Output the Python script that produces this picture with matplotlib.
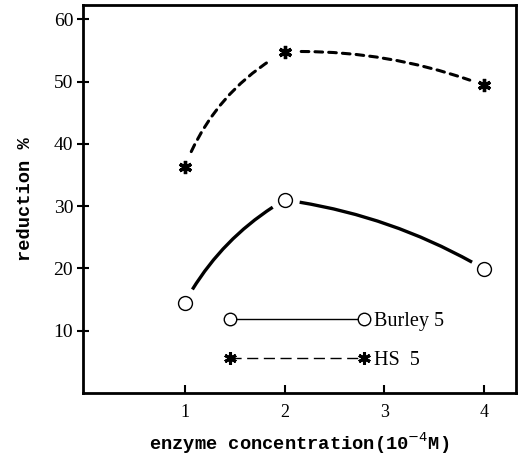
import matplotlib

matplotlib.use("Agg")
from matplotlib import pyplot as plt
from matplotlib.lines import Line2D
from matplotlib.patches import FancyArrowPatch

# values
concentration = [1, 2, 4]
burley_5 = [14.5, 31.0, 19.9]
hs_5 = [36.3, 54.8, 49.4]
x_ticks = [1, 2, 3, 4]
y_ticks = [10, 20, 30, 40, 50, 60]
series_labels = ["Burley 5", "HS  5"]

# curvature of each hand-drawn segment (arc3 rad)
burley_bend = [-0.14, -0.10]
hs_bend = [-0.18, -0.10]

plt.rcParams["font.family"] = ["Liberation Serif", "DejaVu Serif"]

fig = plt.figure(figsize=(5.25, 4.58), dpi=100)
ax = fig.add_axes([0.158, 0.142, 0.825, 0.847])

star = (6, 2, 0)


def draw_curve(xs, ys, bends, gap, **style):
    for i in range(len(xs) - 1):
        seg = FancyArrowPatch(
            (xs[i], ys[i]),
            (xs[i + 1], ys[i + 1]),
            arrowstyle="-",
            connectionstyle=f"arc3,rad={bends[i]}",
            shrinkA=gap,
            shrinkB=gap - 1,
            color="black",
            **style,
        )
        ax.add_patch(seg)


draw_curve(concentration, burley_5, burley_bend, 11, lw=2.4, capstyle="butt")
draw_curve(concentration, hs_5, hs_bend, 12, lw=2.2, linestyle=(0, (2.5, 2.0)))

ax.plot(concentration, burley_5, linestyle="none", marker="o", ms=10,
        mfc="white", mec="black", mew=1.0)
ax.plot(concentration, hs_5, linestyle="none", marker=star, ms=9.5,
        mec="black", mew=2.4)

ax.set_xlim(-0.02, 4.32)
ax.set_ylim(0, 62.3)
ax.set_xticks(x_ticks)
ax.set_yticks(y_ticks)
ax.tick_params(axis="x", direction="in", length=6, width=1.5, labelsize=13, pad=8)
ax.tick_params(axis="y", direction="inout", length=8, width=1.5, labelsize=14, pad=3)
for side in ax.spines.values():
    side.set_linewidth(2)

ax.set_xlabel("enzyme concentration(10$^{-4}$M)", fontsize=13.5,
              fontfamily="Liberation Mono", fontweight="bold", labelpad=7)
ax.set_ylabel("reduction %", fontsize=13.5, fontfamily="Liberation Mono",
              fontweight="bold", labelpad=14)

handles = [
    Line2D([], [], color="black", lw=1, marker="o", ms=9, mfc="white",
           mec="black", mew=1.0),
    Line2D([], [], color="black", lw=1, linestyle=(0, (8, 4)), marker=star,
           ms=9, mec="black", mew=2.2),
]
ax.legend(handles, series_labels, numpoints=2, handlelength=7.25,
          handletextpad=0.2, labelspacing=1.0, frameon=False, fontsize=14.5,
          loc="lower left", bbox_to_anchor=(0.283, 0.012))

fig.savefig("out.png", dpi=100)
